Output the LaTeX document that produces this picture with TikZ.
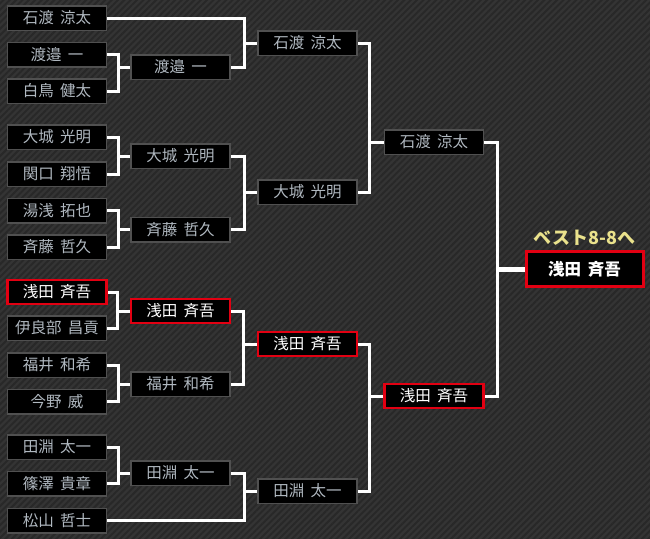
\documentclass[tikz,border=0pt]{standalone}
\usepackage{fontspec}
\setmainfont{Noto Sans CJK JP}[WordSpace=1.8]
\usetikzlibrary{patterns.meta, backgrounds}

\definecolor{bgdark}{RGB}{52,52,52}
\definecolor{bgline}{RGB}{40,40,40}
\definecolor{boxline}{RGB}{80,80,80}
\definecolor{nametext}{RGB}{176,184,192}
\definecolor{winred}{RGB}{226,0,18}
\definecolor{besttext}{RGB}{234,226,140}

\tikzset{
    player/.style={draw=boxline, line width=1.5pt, fill=black, text=nametext,
        minimum width=99pt, minimum height=24.5pt, inner sep=0pt,
        font=\fontsize{15.5}{17}\selectfont},
    winner/.style={player, draw=winred, line width=2.2pt, text=white},
    champion/.style={winner, line width=3pt, minimum width=117pt, minimum height=35pt,
        font=\bfseries\fontsize{16.5}{18}\selectfont},
    link/.style={white, line width=3pt, line join=miter},
}

\begin{document}
\begin{tikzpicture}[x=1pt, y=-1pt]
    \useasboundingbox (0,0) rectangle (650,538);

    % First round
    \node[player] (a1) at (57,18) {石渡 涼太};
    \node[player] (a2) at (57,54.5) {渡邉 一};
    \node[player] (a3) at (57,91) {白鳥 健太};
    \node[player] (a4) at (57,137) {大城 光明};
    \node[player] (a5) at (57,174) {関口 翔悟};
    \node[player] (a6) at (57,210.5) {湯浅 拓也};
    \node[player] (a7) at (57,247) {斉藤 哲久};
    \node[winner] (a8) at (57,292) {浅田 斉吾};
    \node[player] (a9) at (57,328) {伊良部 昌貢};
    \node[player] (a10) at (57,365) {福井 和希};
    \node[player] (a11) at (57,401.5) {今野 威};
    \node[player] (a12) at (57,447) {田淵 太一};
    \node[player] (a13) at (57,483.5) {篠澤 貴章};
    \node[player] (a14) at (57,520.5) {松山 哲士};

    % Second round
    \node[player] (b1) at (180.5,67) {渡邉 一};
    \node[player] (b2) at (180.5,156) {大城 光明};
    \node[player] (b3) at (180.5,229.5) {斉藤 哲久};
    \node[winner] (b4) at (180.5,311) {浅田 斉吾};
    \node[player] (b5) at (180.5,384) {福井 和希};
    \node[player] (b6) at (180.5,473) {田淵 太一};

    % Third round
    \node[player] (c1) at (307.5,43) {石渡 涼太};
    \node[player] (c2) at (307.5,192) {大城 光明};
    \node[winner] (c3) at (307.5,344) {浅田 斉吾};
    \node[player] (c4) at (307.5,491) {田淵 太一};

    % Fourth round
    \node[player] (d1) at (434,142) {石渡 涼太};
    \node[winner] (d2) at (434,396) {浅田 斉吾};

    % Block winner
    \node[champion] (f) at (584.5,269) {浅田 斉吾};
    \node[text=besttext, font=\bfseries\fontsize{18}{20}\selectfont] (best) at (584.5,238) {ベスト8-8へ};

    \begin{scope}[on background layer]
        % Background
        \fill[bgdark] (-5,-5) rectangle (655,543);
        \fill[pattern={Lines[angle=45, distance=4.5pt, line width=2pt]}, pattern color=bgline] (-5,-5) rectangle (655,543);

        % Round 1 brackets
        \draw[link] (a2.east) -| ([xshift=-12pt]b1.west) -- (b1.west);
        \draw[link] (a3.east) -| ([xshift=-12pt]b1.west);
        \draw[link] (a4.east) -| ([xshift=-12pt]b2.west) -- (b2.west);
        \draw[link] (a5.east) -| ([xshift=-12pt]b2.west);
        \draw[link] (a6.east) -| ([xshift=-12pt]b3.west) -- (b3.west);
        \draw[link] (a7.east) -| ([xshift=-12pt]b3.west);
        \draw[link] (a8.east) -| ([xshift=-12pt]b4.west) -- (b4.west);
        \draw[link] (a9.east) -| ([xshift=-12pt]b4.west);
        \draw[link] (a10.east) -| ([xshift=-12pt]b5.west) -- (b5.west);
        \draw[link] (a11.east) -| ([xshift=-12pt]b5.west);
        \draw[link] (a12.east) -| ([xshift=-12pt]b6.west) -- (b6.west);
        \draw[link] (a13.east) -| ([xshift=-12pt]b6.west);

        % Round 2 brackets
        \draw[link] (a1.east) -| ([xshift=-13pt]c1.west) -- (c1.west);
        \draw[link] (b1.east) -| ([xshift=-13pt]c1.west);
        \draw[link] (b2.east) -| ([xshift=-13pt]c2.west) -- (c2.west);
        \draw[link] (b3.east) -| ([xshift=-13pt]c2.west);
        \draw[link] (b4.east) -| ([xshift=-13pt]c3.west) -- (c3.west);
        \draw[link] (b5.east) -| ([xshift=-13pt]c3.west);
        \draw[link] (b6.east) -| ([xshift=-13pt]c4.west) -- (c4.west);
        \draw[link] (a14.east) -| ([xshift=-13pt]c4.west);

        % Round 3 brackets
        \draw[link] (c1.east) -| ([xshift=-14pt]d1.west) -- (d1.west);
        \draw[link] (c2.east) -| ([xshift=-14pt]d1.west);
        \draw[link] (c3.east) -| ([xshift=-14pt]d2.west) -- (d2.west);
        \draw[link] (c4.east) -| ([xshift=-14pt]d2.west);

        % Final bracket
        \draw[link] (d1.east) -| ([xshift=-27pt]f.west);
        \draw[link] (d2.east) -| ([xshift=-27pt]f.west);
        \draw[link, line width=5pt] ([xshift=-28.5pt]f.west) -- (f.west);
    \end{scope}
\end{tikzpicture}
\end{document}
